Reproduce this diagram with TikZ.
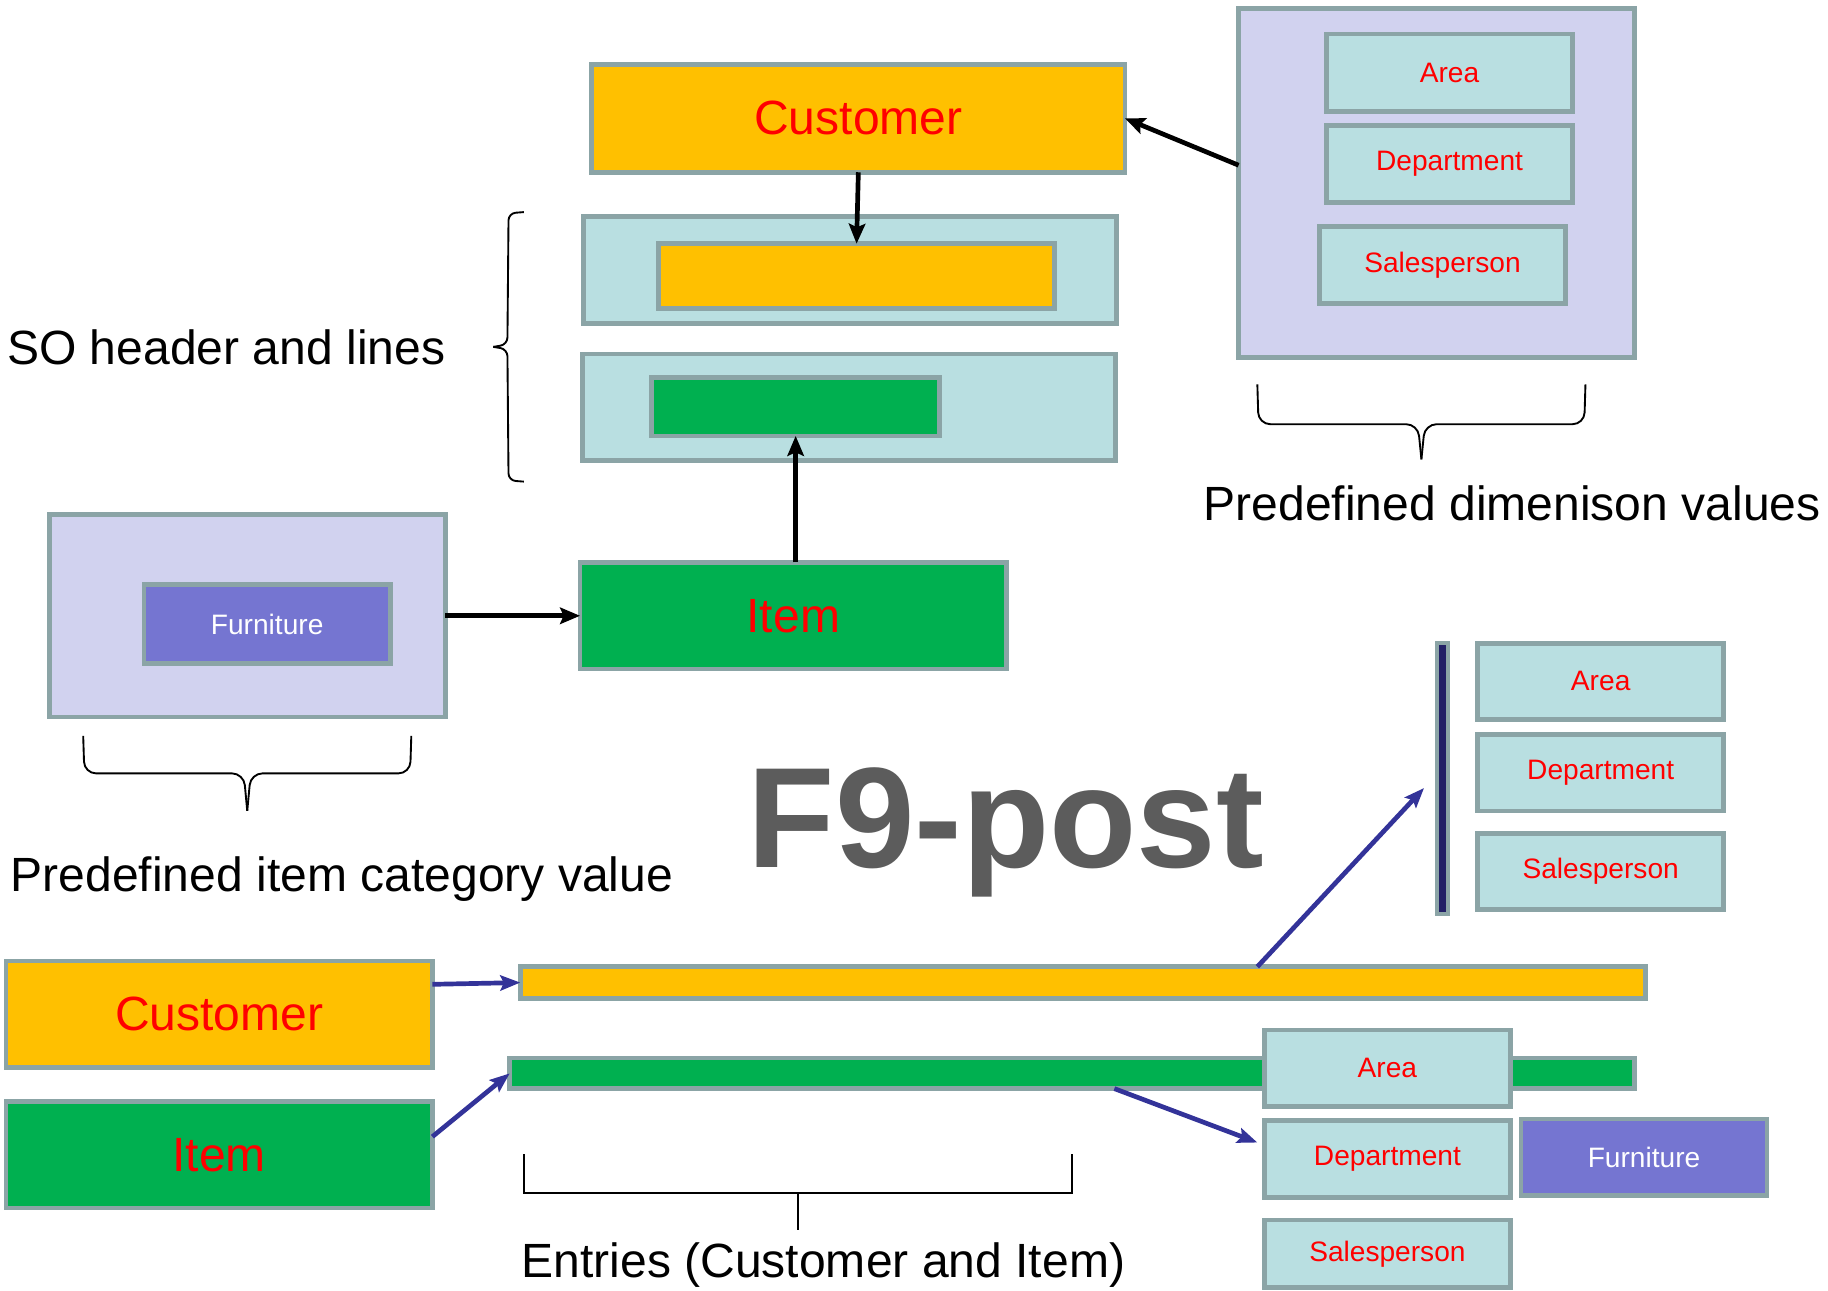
\documentclass[tikz,border=0pt]{standalone}
\usepackage{fontspec}
\setmainfont{Liberation Sans}
\usetikzlibrary{arrows.meta}
\definecolor{bord}{HTML}{8BA4A6}
\definecolor{cyanbox}{HTML}{B9DFE1}
\definecolor{lav}{HTML}{D1D2EF}
\definecolor{purp}{HTML}{7575D1}
\definecolor{orng}{HTML}{FFC000}
\definecolor{grn}{HTML}{00B050}
\definecolor{navy}{HTML}{221F66}
\definecolor{blu}{HTML}{333399}
\definecolor{fgray}{HTML}{5C5C5C}
\begin{document}
\begin{tikzpicture}[x=1pt,y=-1pt,
  box/.style={draw=bord,line width=4pt,inner sep=0pt,outer sep=0pt},
  big/.style={font=\fontsize{41}{49}\selectfont},
  small/.style={font=\fontsize{24}{29}\selectfont},
  blk/.style={line width=4pt,-{Stealth[length=17pt,width=14pt,inset=3pt]}},
  bluarr/.style={blu,line width=4pt,-{Stealth[length=17pt,width=13pt,inset=3pt]}},
  bracepath/.style={line width=1.6pt,black},
  lbl/.style={big,inner sep=0pt,anchor=base west},
  dimbox/.style={box,fill=cyanbox,minimum width=210pt,minimum height=66pt,small,text=red}]
\useasboundingbox (0,0) rectangle (1560,1101);

% ---------- upper part ----------
\node[box,fill=orng,minimum width=455pt,minimum height=92pt,big,text=red] (cust1) at (732.5,101) {Customer};
\node[box,fill=cyanbox,minimum width=455pt,minimum height=91pt] (hdr) at (725.5,230.5) {};
\node[box,fill=orng,minimum width=338pt,minimum height=55pt] (hdrin) at (731,235.5) {};
\node[box,fill=cyanbox,minimum width=455pt,minimum height=91pt] (lines) at (724.5,347.5) {};
\node[box,fill=grn,minimum width=246pt,minimum height=50pt] (linesin) at (679,347) {};

\node[box,fill=lav,minimum width=338pt,minimum height=298pt] (dimbox) at (1226,156) {};
\node[dimbox] (area1) at (1237,62) {Area};
\node[dimbox] (dept1) at (1237,140) {Department};
\node[dimbox] (sales1) at (1231,226) {Salesperson};

\node[box,fill=lav,minimum width=338pt,minimum height=173pt] (furnbox) at (211,525.5) {};
\node[box,fill=purp,minimum width=210pt,minimum height=67pt,small,text=white] (furn1) at (228,532.5) {Furniture};
\node[box,fill=grn,minimum width=364pt,minimum height=91pt,big,text=red] (item1) at (677,525.5) {Item};

\draw[blk] (cust1.south) -- (hdrin.north);
\draw[blk] (linesin.south |- item1.north) -- (linesin.south);
\draw[blk] ([yshift=15pt]dimbox.west) -- (cust1.east);
\draw[blk] (furnbox.east) -- (item1.west);

% braces
\draw[bracepath,rounded corners=6pt] (447,181) -- (434,182) -- (433,294) -- (421,296);
\draw[bracepath,rounded corners=6pt] (421,296) -- (433,298) -- (434,410) -- (447,411);
\draw[bracepath,rounded corners=10pt] (1073,328) -- (1074,362) -- (1210,362) -- (1213,392);
\draw[bracepath,rounded corners=10pt] (1213,392) -- (1216,362) -- (1352,362) -- (1353,328);
\draw[bracepath,rounded corners=10pt] (71,628) -- (72,660) -- (208,660) -- (211,692);
\draw[bracepath,rounded corners=10pt] (211,692) -- (214,660) -- (350,660) -- (351,628);
\draw[bracepath] (447,985) -- (447,1018) -- (915,1018) -- (915,985);
\draw[bracepath] (681,1018) -- (681,1050);

\node[lbl] (t1) at (6,311) {SO header and lines};
\node[lbl] (t2) at (1027,444) {Predefined dimenison values};
\node[lbl] (t3) at (9,761) {Predefined item category value};
\node[lbl] (t4) at (445,1090) {Entries (Customer and Item)};

\node[font=\fontsize{122}{122}\selectfont\bfseries,text=fgray,anchor=base west,inner sep=0pt] (f9) at (638,740) {F9-post};

% ---------- lower right dims ----------
\node[draw=bord,line width=3.5pt,fill=navy,minimum width=10pt,minimum height=231pt,inner sep=0pt] (navybar) at (1231,664.5) {};
\node[dimbox,minimum height=65pt] (area2) at (1366,581.5) {Area};
\node[dimbox,minimum height=65pt] (dept2) at (1366,659.5) {Department};
\node[dimbox,minimum height=65pt] (sales2) at (1366,743.5) {Salesperson};

% ---------- lower part ----------
\node[box,fill=orng,minimum width=364pt,minimum height=91pt,big,text=red] (cust2) at (187,865.5) {Customer};
\node[box,fill=grn,minimum width=364pt,minimum height=91pt,big,text=red] (item2) at (187,985.5) {Item};
\node[box,fill=orng,minimum width=960pt,minimum height=27pt] (obar) at (924,838.5) {};
\node[box,fill=grn,minimum width=960pt,minimum height=26pt] (gbar) at (915,916) {};
\node[dimbox,minimum height=65pt] (area3) at (1184,911.5) {Area};
\node[dimbox] (dept3) at (1184,989) {Department};
\node[dimbox,minimum height=58pt] (sales3) at (1184,1070) {Salesperson};
\node[box,fill=purp,minimum width=210pt,minimum height=65pt,small,text=white] (furn2) at (1403,987.5) {Furniture};

\draw[bluarr] ([yshift=25.5pt]cust2.east) -- (obar.west);
\draw[bluarr] ([yshift=15.5pt]item2.east) -- (gbar.west);
\draw[bluarr] ([xshift=149pt]obar.north) -- ([xshift=-9pt,yshift=-8pt]navybar.west);
\draw[bluarr] ([xshift=36pt]gbar.south) -- ([xshift=-6pt,yshift=14pt]dept3.west);
\end{tikzpicture}
\end{document}
